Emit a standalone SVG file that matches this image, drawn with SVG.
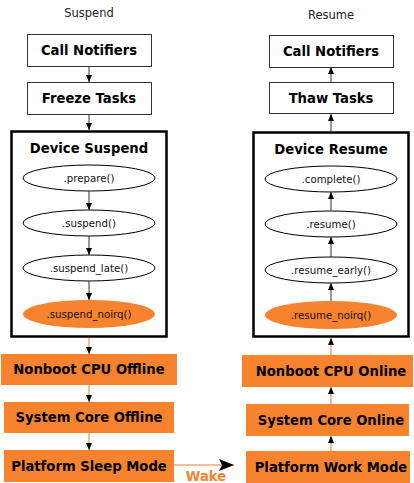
<svg xmlns="http://www.w3.org/2000/svg" width="414" height="483" viewBox="0 0 414 483">
<defs>
<marker id="ah" markerUnits="userSpaceOnUse" markerWidth="8" markerHeight="6" refX="7" refY="3" orient="auto">
<path d="M0,0 L7,3 L0,6 z" fill="#000"/>
</marker>
<marker id="ahBig" markerUnits="userSpaceOnUse" markerWidth="16" markerHeight="12" refX="15" refY="6" orient="auto">
<path d="M0,0 L15,6 L0,12 L3,6 z" fill="#000"/>
</marker>
</defs>
<style>
.title{font-family:"DejaVu Sans",sans-serif;font-size:11.5px;fill:#222;text-anchor:middle}
.box{fill:#fff;stroke:#333;stroke-width:1}
.obox{fill:#f7832f;stroke:none}
.bt{font-family:"DejaVu Sans",sans-serif;font-size:13.2px;font-weight:bold;fill:#000;text-anchor:middle}
.cl{fill:#fff;stroke:#000;stroke-width:2.5}
.el{fill:#fff;stroke:#000;stroke-width:1}
.oel{fill:#f7832f;stroke:none}
.et{font-family:"DejaVu Sans",sans-serif;font-size:10.2px;fill:#111;text-anchor:middle}
.e{stroke:#333;stroke-width:1;fill:none;marker-end:url(#ah)}
.eo{stroke:#f8a470;stroke-width:1.5;fill:none;marker-end:url(#ah)}
.wake{font-family:"DejaVu Sans",sans-serif;font-size:13.2px;font-weight:bold;fill:#f7832f;text-anchor:middle}
</style>
<rect width="414" height="483" fill="#fff"/>
<text class="title" x="89" y="17">Suspend</text>
<text class="title" x="331" y="19">Resume</text>

<g id="s_call"><rect class="box" x="27.5" y="34.5" width="124" height="32"/><text class="bt" x="89" y="55">Call Notifiers</text></g>
<g id="s_freeze"><rect class="box" x="27.5" y="82.5" width="124" height="32"/><text class="bt" x="89" y="103">Freeze Tasks</text></g>
<g id="s_cluster"><rect class="cl" x="11.5" y="131.5" width="155" height="205"/><text class="bt" x="89" y="153">Device Suspend</text></g>
<g id="s_prepare"><ellipse class="el" cx="89" cy="178" rx="66" ry="13"/><text class="et" x="89" y="181.5">.prepare()</text></g>
<g id="s_suspend"><ellipse class="el" cx="89" cy="223" rx="66" ry="13"/><text class="et" x="89" y="226.5">.suspend()</text></g>
<g id="s_late"><ellipse class="el" cx="89" cy="268" rx="66" ry="13"/><text class="et" x="89" y="271.5">.suspend_late()</text></g>
<g id="s_noirq"><ellipse class="oel" cx="89" cy="314" rx="66" ry="14"/><text class="et" x="89" y="317.5">.suspend_noirq()</text></g>
<g id="s_cpu"><rect class="obox" x="1" y="354" width="176" height="31"/><text class="bt" x="89" y="374">Nonboot CPU Offline</text></g>
<g id="s_core"><rect class="obox" x="4" y="402" width="170" height="31"/><text class="bt" x="89" y="422">System Core Offline</text></g>
<g id="s_sleep"><rect class="obox" x="4" y="450" width="170" height="32"/><text class="bt" x="89" y="470.5">Platform Sleep Mode</text></g>

<g id="r_call"><rect class="box" x="269.5" y="35.5" width="124" height="32"/><text class="bt" x="331" y="56">Call Notifiers</text></g>
<g id="r_thaw"><rect class="box" x="269.5" y="82.5" width="124" height="31"/><text class="bt" x="331" y="103">Thaw Tasks</text></g>
<g id="r_cluster"><rect class="cl" x="253.5" y="132.5" width="155" height="204"/><text class="bt" x="331" y="154">Device Resume</text></g>
<g id="r_complete"><ellipse class="el" cx="331" cy="179" rx="66" ry="13"/><text class="et" x="331" y="182.5">.complete()</text></g>
<g id="r_resume"><ellipse class="el" cx="331" cy="224" rx="66" ry="13"/><text class="et" x="331" y="227.5">.resume()</text></g>
<g id="r_early"><ellipse class="el" cx="331" cy="270" rx="66" ry="13"/><text class="et" x="331" y="273.5">.resume_early()</text></g>
<g id="r_noirq"><ellipse class="oel" cx="331" cy="315" rx="66" ry="14"/><text class="et" x="331" y="318.5">.resume_noirq()</text></g>
<g id="r_cpu"><rect class="obox" x="242" y="355" width="171" height="32"/><text class="bt" x="331" y="375.5">Nonboot CPU Online</text></g>
<g id="r_core"><rect class="obox" x="246" y="404" width="163" height="32"/><text class="bt" x="331" y="424.5">System Core Online</text></g>
<g id="r_work"><rect class="obox" x="246" y="451" width="164" height="32"/><text class="bt" x="331" y="471.5">Platform Work Mode</text></g>

<g id="connectors">
<line class="e" x1="89" y1="67" x2="89" y2="82"/>
<line class="e" x1="89" y1="115" x2="89" y2="130"/>
<line class="e" x1="89" y1="191" x2="89" y2="210"/>
<line class="e" x1="89" y1="236" x2="89" y2="255"/>
<line class="e" x1="89" y1="281" x2="89" y2="300"/>
<line class="eo" x1="89" y1="338" x2="89" y2="354"/>
<line class="eo" x1="89" y1="385" x2="89" y2="402"/>
<line class="eo" x1="89" y1="433" x2="89" y2="450"/>

<line class="e" x1="331" y1="82" x2="331" y2="67"/>
<line class="e" x1="331" y1="131" x2="331" y2="114"/>
<line class="e" x1="331" y1="211" x2="331" y2="192"/>
<line class="e" x1="331" y1="257" x2="331" y2="237"/>
<line class="e" x1="331" y1="301" x2="331" y2="283"/>
<line class="eo" x1="331" y1="355" x2="331" y2="338"/>
<line class="eo" x1="331" y1="404" x2="331" y2="387"/>
<line class="eo" x1="331" y1="451" x2="331" y2="436"/>

<line x1="174" y1="465" x2="234" y2="465" stroke="#f8a470" stroke-width="1.5" marker-end="url(#ahBig)"/>
<text class="wake" x="206" y="481">Wake</text>
</g>
</svg>
